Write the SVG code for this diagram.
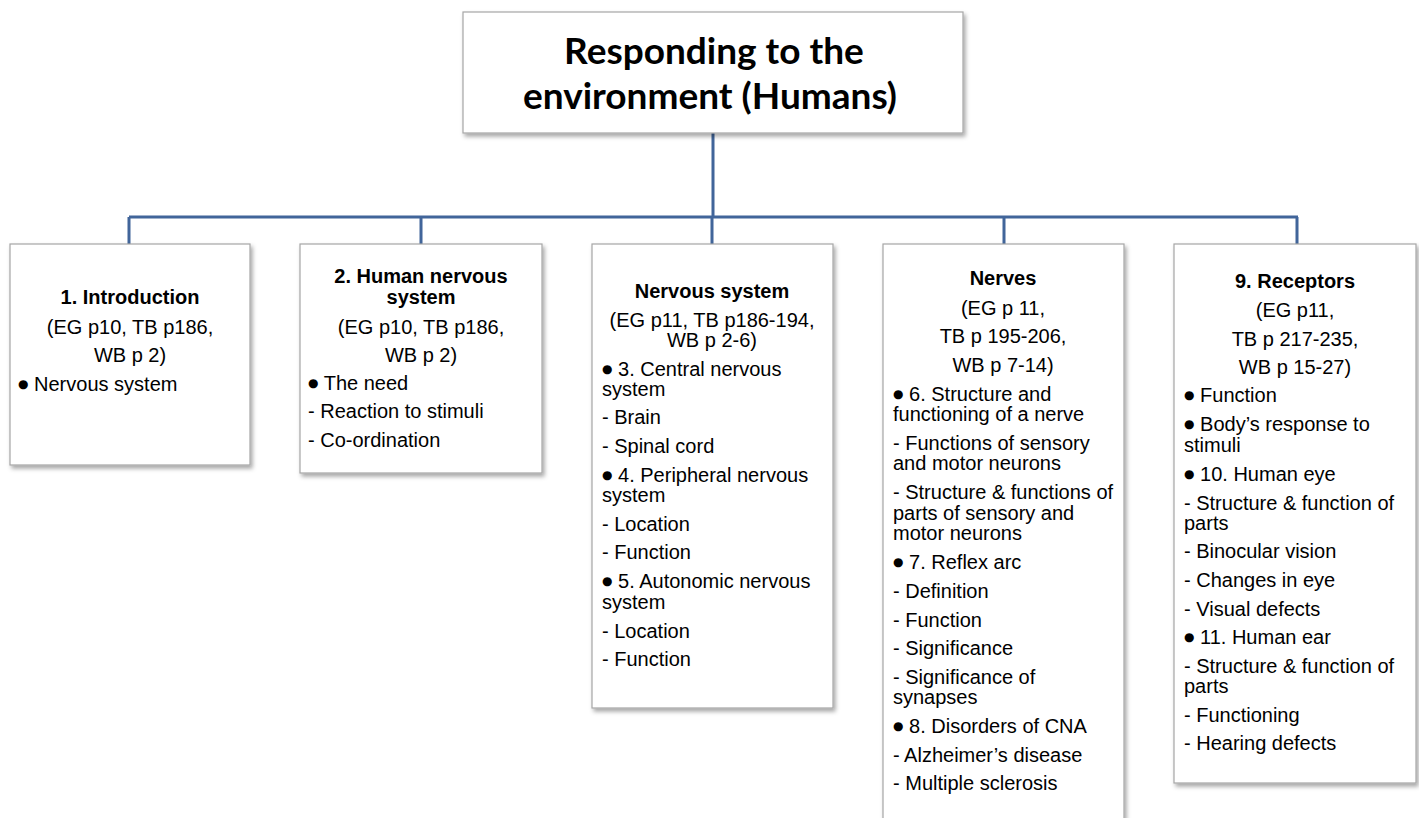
<svg xmlns="http://www.w3.org/2000/svg" width="1419" height="818" viewBox="0 0 1419 818">
<style>
.box{fill:#ffffff;stroke:#a6a6a6;stroke-width:1.2;filter:url(#sh)}
.t{font-family:"Liberation Sans",Arial,sans-serif;font-size:20px;fill:#000}
.h{font-weight:bold;text-anchor:middle}
.c{text-anchor:middle}
.b{font-family:"DejaVu Sans",sans-serif;font-size:12px;baseline-shift:3px}
.title{font-family:Lato,"Open Sans",sans-serif;font-weight:bold;font-size:37px;text-anchor:middle;fill:#000}
.con{stroke:#41659a;stroke-width:3;fill:none}
</style>
<defs>
<filter id="sh" x="-10%" y="-10%" width="125%" height="125%">
<feDropShadow dx="2" dy="3" stdDeviation="2" flood-color="#000" flood-opacity="0.35"/>
</filter>
</defs>
<rect width="1419" height="818" fill="#ffffff"/>
<g id="connectors">
<path class="con" d="M713 133V217M129 217H1298M129 217V244M421 217V244M712 217V244M1004 217V244M1297 217V244"/>
</g>
<g id="root">
<rect class="box" x="463" y="12" width="500" height="121"/>
<text class="title" x="714" y="64">Responding to the</text>
<text class="title" x="710" y="109">environment (Humans)</text>
</g>
<g id="n1">
<rect class="box" x="10" y="244" width="240" height="221"/>
<text class="t h" x="130" y="304">1. Introduction</text>
<text class="t c" x="130" y="334">(EG p10, TB p186,</text>
<text class="t c" x="130" y="362">WB p 2)</text>
<text class="t" x="18" y="391"><tspan class="b">●</tspan> Nervous system</text>
</g>
<g id="n2">
<rect class="box" x="300" y="244" width="242" height="229"/>
<text class="t h" x="421" y="283">2. Human nervous</text>
<text class="t h" x="421" y="304">system</text>
<text class="t c" x="421" y="334">(EG p10, TB p186,</text>
<text class="t c" x="421" y="362">WB p 2)</text>
<text class="t" x="308" y="390"><tspan class="b">●</tspan> The need</text>
<text class="t" x="308" y="418">- Reaction to stimuli</text>
<text class="t" x="308" y="447">- Co-ordination</text>
</g>
<g id="n3">
<rect class="box" x="592" y="244" width="241" height="464"/>
<text class="t h" x="712" y="298">Nervous system</text>
<text class="t c" x="712" y="327">(EG p11, TB p186-194,</text>
<text class="t c" x="712" y="347">WB p 2-6)</text>
<text class="t" x="602" y="376"><tspan class="b">●</tspan> 3. Central nervous</text>
<text class="t" x="602" y="396">system</text>
<text class="t" x="602" y="424">- Brain</text>
<text class="t" x="602" y="453">- Spinal cord</text>
<text class="t" x="602" y="482"><tspan class="b">●</tspan> 4. Peripheral nervous</text>
<text class="t" x="602" y="502">system</text>
<text class="t" x="602" y="531">- Location</text>
<text class="t" x="602" y="559">- Function</text>
<text class="t" x="602" y="588"><tspan class="b">●</tspan> 5. Autonomic nervous</text>
<text class="t" x="602" y="609">system</text>
<text class="t" x="602" y="638">- Location</text>
<text class="t" x="602" y="666">- Function</text>
</g>
<g id="n4">
<rect class="box" x="883" y="244" width="241" height="590"/>
<text class="t h" x="1003" y="285">Nerves</text>
<text class="t c" x="1003" y="315">(EG p 11,</text>
<text class="t c" x="1003" y="343">TB p 195-206,</text>
<text class="t c" x="1003" y="372">WB p 7-14)</text>
<text class="t" x="893" y="401"><tspan class="b">●</tspan> 6. Structure and</text>
<text class="t" x="893" y="421">functioning of a nerve</text>
<text class="t" x="893" y="450">- Functions of sensory</text>
<text class="t" x="893" y="470">and motor neurons</text>
<text class="t" x="893" y="499">- Structure &amp; functions of</text>
<text class="t" x="893" y="520">parts of sensory and</text>
<text class="t" x="893" y="540">motor neurons</text>
<text class="t" x="893" y="569"><tspan class="b">●</tspan> 7. Reflex arc</text>
<text class="t" x="893" y="598">- Definition</text>
<text class="t" x="893" y="627">- Function</text>
<text class="t" x="893" y="655">- Significance</text>
<text class="t" x="893" y="684">- Significance of</text>
<text class="t" x="893" y="704">synapses</text>
<text class="t" x="893" y="733"><tspan class="b">●</tspan> 8. Disorders of CNA</text>
<text class="t" x="893" y="762">- Alzheimer’s disease</text>
<text class="t" x="893" y="790">- Multiple sclerosis</text>
</g>
<g id="n5">
<rect class="box" x="1174" y="244" width="242" height="539"/>
<text class="t h" x="1295" y="288">9. Receptors</text>
<text class="t c" x="1295" y="317">(EG p11,</text>
<text class="t c" x="1295" y="346">TB p 217-235,</text>
<text class="t c" x="1295" y="374">WB p 15-27)</text>
<text class="t" x="1184" y="402"><tspan class="b">●</tspan> Function</text>
<text class="t" x="1184" y="431"><tspan class="b">●</tspan> Body’s response to</text>
<text class="t" x="1184" y="452">stimuli</text>
<text class="t" x="1184" y="481"><tspan class="b">●</tspan> 10. Human eye</text>
<text class="t" x="1184" y="510">- Structure &amp; function of</text>
<text class="t" x="1184" y="530">parts</text>
<text class="t" x="1184" y="558">- Binocular vision</text>
<text class="t" x="1184" y="587">- Changes in eye</text>
<text class="t" x="1184" y="616">- Visual defects</text>
<text class="t" x="1184" y="644"><tspan class="b">●</tspan> 11. Human ear</text>
<text class="t" x="1184" y="673">- Structure &amp; function of</text>
<text class="t" x="1184" y="693">parts</text>
<text class="t" x="1184" y="722">- Functioning</text>
<text class="t" x="1184" y="750">- Hearing defects</text>
</g>
</svg>
